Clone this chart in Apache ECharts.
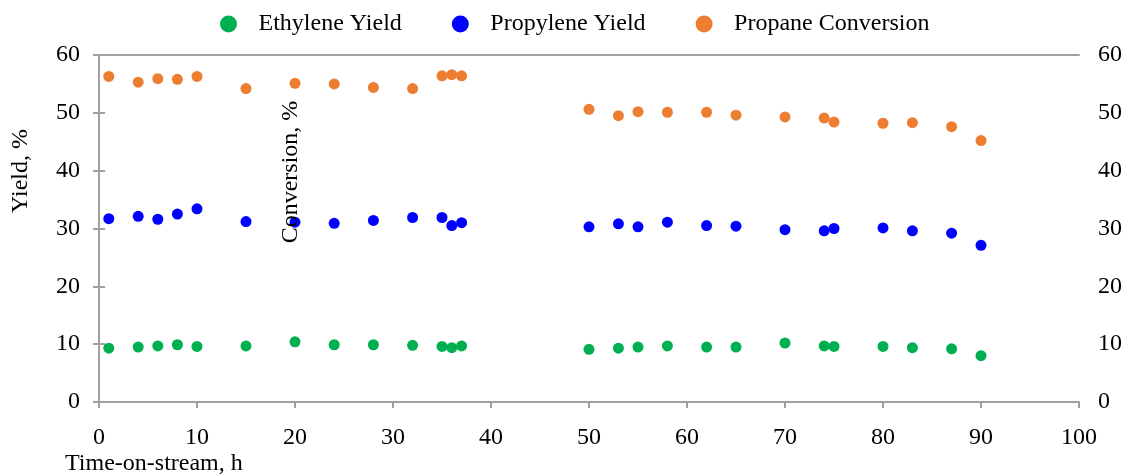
<!DOCTYPE html>
<html>
<head>
<meta charset="utf-8">
<script src="https://cdn.jsdelivr.net/npm/echarts@6/dist/echarts.min.js"></script>
<style>html,body{margin:0;padding:0;background:#fff;}#c{width:1126px;height:475px;}</style>
</head>
<body>
<div id="c"></div>
<script>
const time = [1, 4, 6, 8, 10, 15, 20, 24, 28, 32, 35, 36, 37, 50, 53, 55, 58, 62, 65, 70, 74, 75, 80, 83, 87, 90];
const ethyleneYield = [9.3, 9.5, 9.7, 9.9, 9.6, 9.7, 10.4, 9.9, 9.9, 9.8, 9.6, 9.4, 9.7, 9.1, 9.3, 9.5, 9.7, 9.5, 9.5, 10.2, 9.7, 9.6, 9.6, 9.4, 9.2, 8.0];
const propyleneYield = [31.7, 32.1, 31.6, 32.5, 33.4, 31.2, 31.1, 30.9, 31.4, 31.9, 31.9, 30.5, 31.0, 30.3, 30.8, 30.3, 31.1, 30.5, 30.4, 29.8, 29.6, 30.0, 30.1, 29.6, 29.2, 27.1];
const propaneConversion = [56.3, 55.3, 55.9, 55.8, 56.3, 54.2, 55.1, 55.0, 54.4, 54.2, 56.4, 56.6, 56.4, 50.6, 49.5, 50.2, 50.1, 50.1, 49.6, 49.3, 49.1, 48.4, 48.2, 48.3, 47.6, 45.2];
const seriesNames = ['Ethylene Yield', 'Propylene Yield', 'Propane Conversion'];
const xTitle = 'Time-on-stream, h';
const yTitle = 'Yield, %';
const y2Title = 'Conversion, %';

const FONT = '"Liberation Serif", "Times New Roman", serif';
const AX = '#a0a0a0';
const pairs = (ys) => time.map((t, i) => [t, ys[i]]);

const chart = echarts.init(document.getElementById('c'), null, {renderer: 'canvas'});
const axisCommon = {
  min: 0, max: 60, interval: 10,
  splitLine: {show: false},
  axisLine: {show: true, lineStyle: {color: AX, width: 2}},
  axisTick: {show: true, inside: false, length: 6, lineStyle: {color: AX, width: 2}},
  axisLabel: {fontFamily: FONT, fontSize: 24, color: '#000', margin: 19}
};
chart.setOption({
  animation: false,
  backgroundColor: '#fff',
  textStyle: {fontFamily: FONT},
  legend: {
    top: 7, left: 215,
    data: seriesNames,
    icon: 'circle',
    itemWidth: 50, itemHeight: 17, itemGap: 50,
    textStyle: {fontFamily: FONT, fontSize: 24, color: '#000'}
  },
  grid: {left: 99, right: 47, top: 55, bottom: 73},
  xAxis: [{
    type: 'value', min: 0, max: 100, interval: 10,
    splitLine: {show: false},
    axisLine: {show: true, onZero: false, lineStyle: {color: AX, width: 2}},
    axisTick: {show: true, length: 6, lineStyle: {color: AX, width: 2}},
    axisLabel: {fontFamily: FONT, fontSize: 24, color: '#000', margin: 24}
  }, {
    type: 'value', min: 0, max: 100, position: 'top',
    splitLine: {show: false},
    axisLine: {show: true, onZero: false, lineStyle: {color: AX, width: 2}},
    axisTick: {show: false}, axisLabel: {show: false}
  }],
  yAxis: [
    Object.assign({type: 'value', position: 'left'}, axisCommon),
    Object.assign({type: 'value', position: 'right'}, axisCommon)
  ],
  graphic: [
    {type: 'text', left: 65, top: 452, style: {text: xTitle, font: '24px ' + FONT, fill: '#000'}},
    {type: 'text', x: 21, y: 171, rotation: Math.PI / 2,
      style: {text: yTitle, font: '24px ' + FONT, fill: '#000', align: 'center', verticalAlign: 'middle'}},
    {type: 'text', x: 291, y: 172, rotation: Math.PI / 2, z: 10,
      style: {text: y2Title, font: '24px ' + FONT, fill: '#000', align: 'center', verticalAlign: 'middle'}}
  ],
  series: [
    {name: seriesNames[0], type: 'scatter', symbol: 'circle', symbolSize: 11, xAxisIndex: 0, yAxisIndex: 0,
      itemStyle: {color: '#00b050', opacity: 1}, data: pairs(ethyleneYield)},
    {name: seriesNames[1], type: 'scatter', symbol: 'circle', symbolSize: 11, xAxisIndex: 0, yAxisIndex: 0,
      itemStyle: {color: '#0000ff', opacity: 1}, data: pairs(propyleneYield)},
    {name: seriesNames[2], type: 'scatter', symbol: 'circle', symbolSize: 11, xAxisIndex: 0, yAxisIndex: 1,
      itemStyle: {color: '#ed7d31', opacity: 1}, data: pairs(propaneConversion)}
  ]
});
</script>
</body>
</html>
